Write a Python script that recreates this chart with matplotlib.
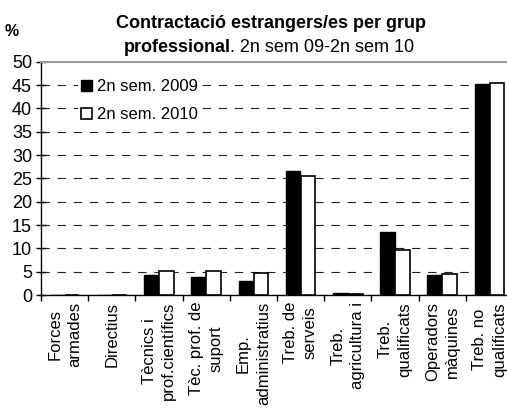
import matplotlib
matplotlib.use("Agg")
import matplotlib.pyplot as plt
import numpy as np
from matplotlib.patches import Patch

plt.rcParams["font.family"] = ["Liberation Sans", "DejaVu Sans"]

categories = [
    "Forces\narmades",
    "Directius",
    "Tècnics i\nprof.científics",
    "Tèc. prof. de\nsuport",
    "Emp.\nadministratius",
    "Treb. de\nserveis",
    "Treb.\nagricultura i",
    "Treb.\nqualificats",
    "Operadors\nmàquines",
    "Treb. no\nqualificats",
]
sem_2009 = [0.1, 0.1, 4.3, 3.9, 2.9, 26.6, 0.5, 13.4, 4.3, 45.2]
sem_2010 = [0.0, 0.1, 5.2, 5.1, 4.8, 25.4, 0.3, 9.7, 4.5, 45.4]
series_labels = ["2n sem. 2009", "2n sem. 2010"]
y_ticks = list(range(0, 55, 5))

W, H = 507, 409
fig = plt.figure(figsize=(W / 100, H / 100), dpi=100)
left, right = 41 / W, 1.0
bottom, top = (H - 295) / H, (H - 61.7) / H
ax = fig.add_axes([left, bottom, right - left, top - bottom])

x = np.arange(len(categories))
bw = 0.31
ax.bar(x + 0.5 - bw / 2 - 0.005, sem_2009, width=bw, color="black", edgecolor="black", linewidth=1.0, zorder=3)
ax.bar(x + 0.5 + bw / 2 + 0.005, sem_2010, width=bw, color="white", edgecolor="black", linewidth=1.2, zorder=3)

group_px = 47.2
ax.set_xlim(0, (W - 41) / group_px)
ax.set_ylim(0, 50)

ax.set_yticks(y_ticks)
ax.tick_params(axis="y", direction="inout", length=7, width=1, labelsize=13, pad=3)
for yv in y_ticks[1:-1]:
    ax.axhline(yv, color="#222222", linewidth=0.8, linestyle=(0, (7.5, 7)), zorder=1)

ax.set_xticks(np.arange(0, len(categories)))
ax.set_xticklabels([])
ax.set_xticks(x + 0.5, minor=True)
ax.set_xticklabels(categories, minor=True, rotation=90, ha="center", va="top",
                   multialignment="center", fontsize=12, linespacing=1.4)
ax.tick_params(axis="x", which="major", direction="out", length=4.5, width=1)
ax.tick_params(axis="x", which="minor", length=0, pad=5)

ax.spines["right"].set_visible(False)
ax.spines["top"].set_color("#999999")
ax.spines["top"].set_linewidth(1.5)
ax.spines["left"].set_linewidth(1.0)
ax.spines["bottom"].set_linewidth(1.0)

handles = [
    Patch(facecolor="black", edgecolor="black", linewidth=1.0),
    Patch(facecolor="white", edgecolor="black", linewidth=1.2),
]
leg = ax.legend(handles, series_labels, loc="upper left", bbox_to_anchor=(0.079, 0.94),
                frameon=True, fancybox=False, fontsize=12, handlelength=0.65, handleheight=0.65,
                handletextpad=0.3, labelspacing=0.8, borderaxespad=0, borderpad=0.2)
leg.get_frame().set_facecolor("white")
leg.get_frame().set_edgecolor("none")
leg.get_frame().set_alpha(1.0)
leg.set_zorder(5)

fig.text(12 / W, 1 - 31 / H, "%", fontsize=11.5, fontweight="bold", ha="center", va="center")

fig.text(271 / W, 1 - 23 / H, "Contractació estrangers/es per grup", fontsize=13,
         fontweight="bold", ha="center", va="center")

renderer = fig.canvas.get_renderer()
t_bold = fig.text(0, 1 - 47 / H, "professional", fontsize=13, fontweight="bold",
                  ha="left", va="center")
t_norm = fig.text(0, 1 - 47 / H, ". 2n sem 09-2n sem 10", fontsize=13,
                  ha="left", va="center")
wb = t_bold.get_window_extent(renderer).width
wn = t_norm.get_window_extent(renderer).width
start = 269 - (wb + wn) / 2
t_bold.set_x(start / W)
t_norm.set_x((start + wb) / W)

fig.savefig("out.png", dpi=100)
